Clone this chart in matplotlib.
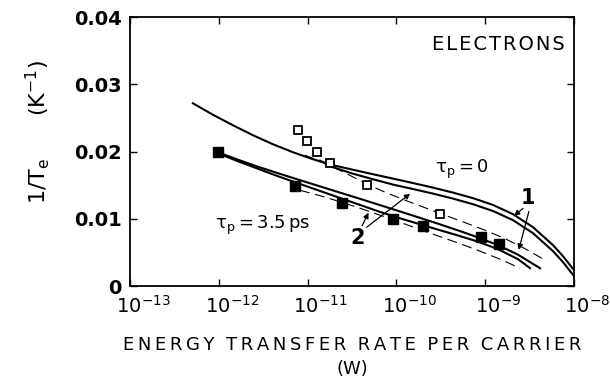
import numpy as np
import matplotlib
matplotlib.use("Agg")
import matplotlib.pyplot as plt
from matplotlib.transforms import ScaledTranslation
from matplotlib.ticker import FixedLocator, NullLocator

# ---- data (log10 of energy transfer rate [W], 1/Te [K^-1]) ----
open_x = [-11.11, -11.01, -10.89, -10.75, -10.33, -9.51]
open_y = [0.0232, 0.0216, 0.0199, 0.0183, 0.0150, 0.0107]

fill_x = [-12.01, -11.14, -10.61, -10.04, -9.70, -9.05, -8.85]
fill_y = [0.0199, 0.0149, 0.0123, 0.0100, 0.0089, 0.0073, 0.0062]

# tau_p = 0, model 1 (upper solid)
t0_m1_x = [-12.291, -12.065, -11.840, -11.615, -11.390, -11.164, -10.939, -10.714,
           -10.489, -10.264, -10.038, -9.813, -9.588, -9.363, -9.137, -8.912,
           -8.687, -8.462, -8.236, -8.124, -8.000]
t0_m1_y = [0.02719, 0.02548, 0.02392, 0.02244, 0.02110, 0.01991, 0.01887, 0.01798,
           0.01731, 0.01664, 0.01599, 0.01533, 0.01465, 0.01391, 0.01308, 0.01207,
           0.01070, 0.00877, 0.00609, 0.00446, 0.00238]
# tau_p = 0, model 2
t0_m2_x = [-10.860, -10.714, -10.489, -10.264, -10.038, -9.813, -9.588, -9.363,
           -9.137, -8.912, -8.687, -8.462, -8.236, -8.124, -8.000]
t0_m2_y = [0.01865, 0.01768, 0.01672, 0.01590, 0.01510, 0.01444, 0.01376, 0.01302,
           0.01218, 0.01117, 0.00981, 0.00788, 0.00520, 0.00357, 0.00149]
# tau_p = 0, dashed
t0_d_x = [-11.029, -10.804, -10.579, -10.354, -10.128, -9.903, -9.678, -9.453,
          -9.227, -9.002, -8.777, -8.552, -8.304]
t0_d_y = [0.01947, 0.01828, 0.01686, 0.01530, 0.01397, 0.01278, 0.01166, 0.01055,
          0.00944, 0.00832, 0.00706, 0.00557, 0.00371]

# tau_p = 3.5 ps, model 1
t35_m1_x = [-12.009, -11.784, -11.559, -11.333, -11.108, -10.883, -10.658, -10.432,
            -10.207, -9.982, -9.757, -9.532, -9.306, -9.081, -8.856, -8.631, -8.383]
t35_m1_y = [0.01991, 0.01880, 0.01776, 0.01679, 0.01585, 0.01493, 0.01400, 0.01308,
            0.01214, 0.01120, 0.01025, 0.00929, 0.00829, 0.00725, 0.00609, 0.00468, 0.00267]
# tau_p = 3.5 ps, model 2
t35_m2_x = [-12.009, -11.784, -11.559, -11.333, -11.108, -10.883, -10.658, -10.432,
            -10.207, -9.982, -9.757, -9.532, -9.306, -9.081, -8.856, -8.631, -8.495]
t35_m2_y = [0.01976, 0.01857, 0.01746, 0.01634, 0.01530, 0.01426, 0.01322, 0.01218,
            0.01114, 0.01018, 0.00929, 0.00840, 0.00753, 0.00661, 0.00550, 0.00401, 0.00267]
# tau_p = 3.5 ps, dashed
t35_d_x = [-11.086, -10.860, -10.635, -10.410, -10.185, -9.959, -9.734, -9.509,
           -9.284, -9.059, -8.833, -8.608]
t35_d_y = [0.01426, 0.01345, 0.01256, 0.01159, 0.01055, 0.00951, 0.00840, 0.00736,
           0.00632, 0.00520, 0.00401, 0.00267]

xticks = [-13, -12, -11, -10, -9, -8]
yticks = [0, 0.01, 0.02, 0.03, 0.04]
ytick_labels = ["0", "0.01", "0.02", "0.03", "0.04"]


def p(v):
    return np.power(10.0, np.asarray(v, dtype=float))


def spaced(s, sep="\u2009", wsep="  "):
    return wsep.join(sep.join(list(w)) for w in s.split(" "))


fig = plt.figure(figsize=(6.10, 3.81), dpi=100)
ax = fig.add_axes([0.213, 0.249, 0.728, 0.706])
ax.set_xscale("log")
ax.set_xlim(1e-13, 1e-8)
ax.set_ylim(0, 0.04)

lw = 1.5
for xs, ys in [(t0_m1_x, t0_m1_y), (t0_m2_x, t0_m2_y),
               (t35_m1_x, t35_m1_y), (t35_m2_x, t35_m2_y)]:
    ax.plot(p(xs), ys, color="black", lw=lw, solid_joinstyle="round")
for xs, ys in [(t0_d_x, t0_d_y), (t35_d_x, t35_d_y)]:
    ax.plot(p(xs), ys, color="black", lw=0.8, dashes=(9, 5))

ax.plot(p(open_x), open_y, ls="none", marker="s", ms=6,
        mfc="white", mec="black", mew=1.3)
ax.plot(p(fill_x), fill_y, ls="none", marker="s", ms=7,
        mfc="black", mec="black")

# ticks
ax.xaxis.set_major_locator(FixedLocator([10.0 ** k for k in xticks]))
ax.xaxis.set_minor_locator(NullLocator())
ax.set_xticklabels([r"$\mathregular{10^{%d}}$" % k for k in xticks],
                   fontsize=14, family="DejaVu Sans")
ax.set_yticks(yticks)
ax.set_yticklabels(ytick_labels, fontsize=14, fontweight="bold", family="DejaVu Sans")
ax.tick_params(axis="both", which="major", direction="in", length=5, width=1,
               top=True, right=True, pad=6)
for s in ax.spines.values():
    s.set_linewidth(1.3)
for lab in ax.get_xticklabels():
    lab.set_transform(lab.get_transform() + ScaledTranslation(0.13, 0, fig.dpi_scale_trans))

# texts
ax.text(0.98, 0.90, spaced("ELECTRONS", "\u200a"), transform=ax.transAxes,
        ha="right", va="center", fontsize=14)
ax.text(p(-9.57), 0.0173, r"$\mathregular{\tau_p = 0}$", fontsize=13, ha="left", va="center")
ax.text(p(-12.04), 0.0090, r"$\mathregular{\tau_p = 3.5\,ps}$", fontsize=13,
        ha="left", va="center")

# label 1 with arrows
ax.text(p(-8.52), 0.0131, "1", fontsize=15, fontweight="bold", ha="center", va="center")
aprops = dict(arrowstyle="-|>", color="black", lw=0.9, mutation_scale=8)
ax.annotate("", xy=(p(-8.70), 0.0102), xytext=(p(-8.55), 0.0118), arrowprops=aprops)
ax.annotate("", xy=(p(-8.63), 0.0050), xytext=(p(-8.50), 0.0115), arrowprops=aprops)
# label 2 with arrows
ax.text(p(-10.44), 0.0072, "2", fontsize=15, fontweight="bold", ha="center", va="center")
ax.annotate("", xy=(p(-9.82), 0.0140), xytext=(p(-10.36), 0.0085), arrowprops=aprops)
ax.annotate("", xy=(p(-10.30), 0.0113), xytext=(p(-10.40), 0.0086), arrowprops=aprops)

fig.text(352 / 610, 1 - 345 / 381, spaced("ENERGY TRANSFER RATE PER CARRIER"),
         ha="center", va="center", fontsize=13)
fig.text(352 / 610, 1 - 369 / 381, "(W)", ha="center", va="center", fontsize=13)
fig.text(38 / 610, 1 - 132 / 381,
         r"$\mathregular{1/T_e}$      $\mathregular{(K^{-1})}$",
         rotation=90, ha="center", va="center", fontsize=16)

fig.savefig("out.png", dpi=100)
